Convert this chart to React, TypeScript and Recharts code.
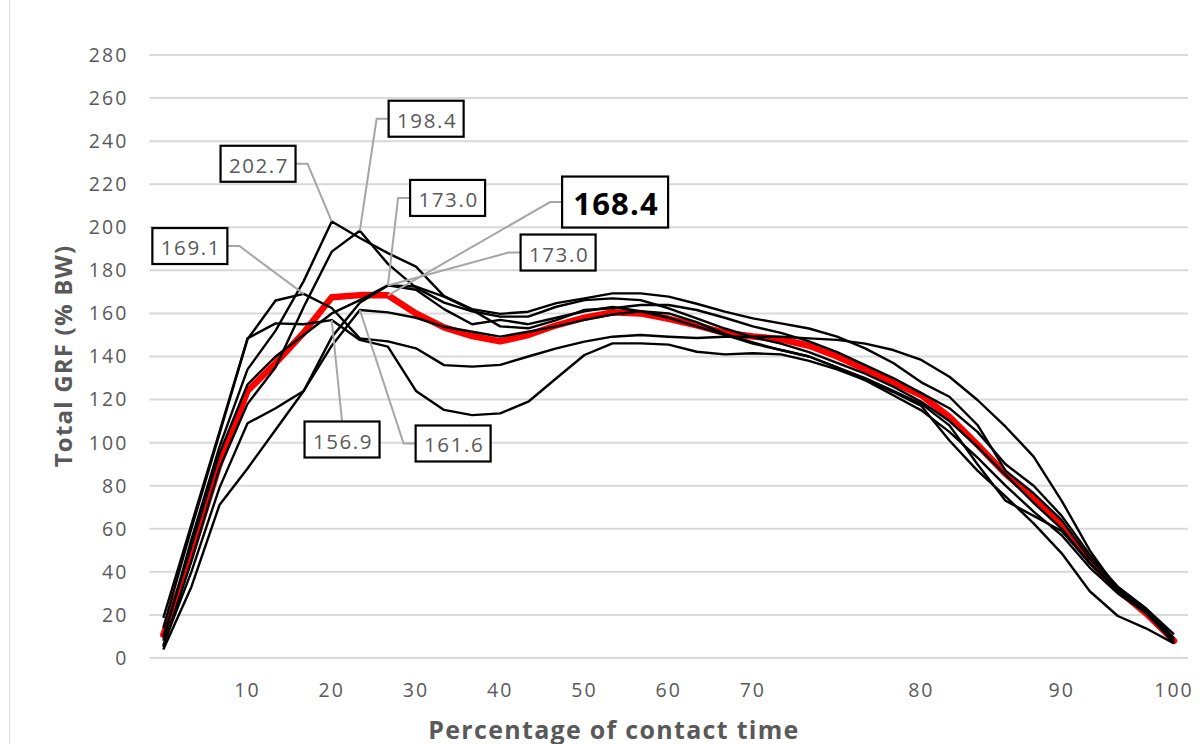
import React from 'react';
import { LineChart, Line, XAxis, YAxis, CartesianGrid } from 'recharts';

// sample index along contact time (37 samples)
const categories = [
  0, 1, 2, 3, 4, 5, 6, 7, 8, 9, 10, 11, 12, 13, 14, 15, 16, 17, 18,
  19, 20, 21, 22, 23, 24, 25, 26, 27, 28, 29, 30, 31, 32, 33, 34, 35, 36,
];

const xTickLabels = [
  '', '', '', '10', '', '', '20', '', '', '30', '', '', '40', '', '', '50', '', '', '60',
  '', '', '70', '', '', '', '', '', '80', '', '', '', '', '90', '', '', '', '100',
];

const yTicks = [0, 20, 40, 60, 80, 100, 120, 140, 160, 180, 200, 220, 240, 260, 280];

const meanGRF = [
  10.7, 48, 90, 124, 137, 151, 167.5, 168.5, 168.4, 160, 153.5, 149.5, 147, 150, 154.5, 158, 160.5, 160, 157.5,
  154.5, 151, 149.3, 148, 145, 140, 134, 128, 122, 112, 99, 85.5, 74.5, 62, 45.5, 31.6, 20.8, 8,
];
const trial1 = [
  8, 55, 98, 134, 152, 175, 202.7, 195, 188, 181.7, 168, 162, 159.8, 160.8, 164.8, 167, 169.3, 169.3, 167.8,
  164.5, 160.8, 157.7, 155.4, 153, 149.2, 143.8, 137, 128, 121.3, 108.2, 87, 76.5, 64, 46, 33, 23, 9,
];
const trial2 = [
  5, 45, 88, 118, 135, 163, 188.7, 198.4, 183, 172, 165, 161, 158.5, 158.5, 163.1, 166.2, 167, 166.2, 162.4,
  157.7, 153, 149, 146, 142, 137, 132, 126, 119, 110, 98, 85, 72, 60, 44, 32, 21, 8,
];
const trial3 = [
  6, 40, 79, 109, 116, 124, 149, 165, 173.0, 172.5, 167.8, 161.6, 154, 153.1, 156.9, 161.6, 162.4, 163.9, 163.9,
  161.6, 158, 154, 151, 147, 142, 136, 130, 123, 116, 105, 90, 80, 66, 48, 33, 23, 11,
];
const trial4 = [
  10, 52, 95, 127, 140, 150, 160, 166.2, 173.0, 171, 162, 155, 157, 155, 158, 161, 163, 161, 158,
  154, 150, 146, 143, 140, 135, 130, 124, 118, 108, 90, 73, 66, 59, 44, 31, 21, 7,
];
const trial5 = [
  14, 60, 104, 148, 166, 169.1, 162.5, 148.4, 147, 143.8, 136, 135.3, 136.1, 140, 143.8, 146.9, 149.2, 150, 149.2,
  148.6, 149.2, 149.2, 149.2, 148.4, 147.7, 146, 143, 138.4, 130.6, 119.8, 107.4, 93.5, 73, 50, 31.6, 22, 7.6,
];
const trial6 = [
  4, 33, 71, 88, 106, 124, 145, 161.6, 160.5, 158, 153.8, 151.5, 149.2, 151.5, 154, 157, 159.5, 161, 160,
  156, 150.5, 146.5, 143, 140, 135, 129, 122, 115, 105, 93, 80, 68, 57, 42, 30, 21, 9,
];
const trial7 = [
  18.6, 62, 105, 148.4, 155.4, 155, 156.9, 147.7, 144.6, 124, 115.2, 112.8, 113.6, 119, 129.9, 140.7, 146.1, 146.1, 145.5,
  142.2, 141, 141.5, 141, 138, 134, 129, 123.5, 117, 101, 87, 75, 62.5, 48.6, 31, 19.5, 13.8, 6.8,
];

const blackSeries = ['trial1', 'trial2', 'trial3', 'trial4', 'trial5', 'trial6', 'trial7'];

const data = categories.map((c, i) => ({
  sample: c,
  meanGRF: meanGRF[i],
  trial1: trial1[i],
  trial2: trial2[i],
  trial3: trial3[i],
  trial4: trial4[i],
  trial5: trial5[i],
  trial6: trial6[i],
  trial7: trial7[i],
}));

type Callout = {
  series: string;
  index: number;
  text: string;
  dx: number;
  dy: number;
  side: 'left' | 'right' | 'top';
  strong?: boolean;
};

const callouts: Callout[] = [
  { series: 'trial1', index: 6, text: '202.7', dx: -73.7, dy: -57.7, side: 'right' },
  { series: 'trial2', index: 7, text: '198.4', dx: 66.3, dy: -112, side: 'left' },
  { series: 'trial3', index: 8, text: '173.0', dx: 59.7, dy: -87.5, side: 'left' },
  { series: 'trial4', index: 8, text: '173.0', dx: 170.2, dy: -32.9, side: 'left' },
  { series: 'trial5', index: 5, text: '169.1', dx: -113.8, dy: -47.8, side: 'right' },
  { series: 'trial6', index: 7, text: '161.6', dx: 93.3, dy: 133.5, side: 'left' },
  { series: 'trial7', index: 6, text: '156.9', dx: 10.3, dy: 119.4, side: 'top' },
  { series: 'meanGRF', index: 8, text: '168.4', dx: 227.2, dy: -93.3, side: 'left', strong: true },
];

const FONT = '"Open Sans", "Noto Sans", sans-serif';

function makeCallout(seriesKey: string) {
  return (props: any) => {
    const { x, y, index } = props;
    const c = callouts.find((k) => k.series === seriesKey && k.index === index);
    if (!c || x == null || y == null) return null;
    const w = c.strong ? 106 : 75;
    const h = c.strong ? 51 : 36;
    const bx = x + c.dx;
    const by = y + c.dy;
    let pts: string;
    if (c.side === 'left') {
      const ex = bx - w / 2;
      pts = `${x},${y} ${ex - 12},${by} ${ex},${by}`;
    } else if (c.side === 'right') {
      const ex = bx + w / 2;
      pts = `${x},${y} ${ex + 12},${by} ${ex},${by}`;
    } else {
      pts = `${x},${y} ${bx},${by - h / 2}`;
    }
    return (
      <g key={`co-${seriesKey}-${index}`}>
        <polyline points={pts} fill="none" stroke="#a6a6a6" strokeWidth={2} />
        <rect x={bx - w / 2} y={by - h / 2} width={w} height={h} fill="#ffffff" stroke="#000000" strokeWidth={2.2} />
        <text
          x={bx + 1}
          y={by + 1}
          textAnchor="middle"
          dominantBaseline="central"
          fontFamily={FONT}
          fontSize={c.strong ? 31 : 20.5}
          fontWeight={c.strong ? 700 : 400}
          letterSpacing={c.strong ? 1.2 : 1.6}
          fill={c.strong ? '#000000' : '#595959'}
        >
          {c.text}
        </text>
      </g>
    );
  };
}

export default function App() {
  return (
    <div style={{ position: 'absolute', left: 0, top: 0, width: 1203, height: 744, background: '#ffffff' }}>
      <div
        style={{
          position: 'absolute',
          left: 9,
          top: -2,
          width: 1200,
          height: 760,
          border: '1.5px solid #d9d9d9',
          boxSizing: 'border-box',
        }}
      />
      <LineChart
        width={1203}
        height={744}
        data={data}
        margin={{ top: 55, right: 15, bottom: 56, left: 89.3 }}
      >
        <CartesianGrid vertical={false} stroke="#d9d9d9" strokeWidth={2} />
        <XAxis
          dataKey="sample"
          type="category"
          interval={0}
          height={30}
          padding={{ left: 14, right: 14 }}
          axisLine={false}
          tickLine={false}
          tickMargin={19}
          tickFormatter={(_v: any, i: number) => xTickLabels[i]}
          tick={{ fill: '#595959', fontSize: 19.5, fontFamily: FONT, letterSpacing: 2 }}
        />
        <YAxis
          domain={[0, 280]}
          ticks={yTicks}
          width={60}
          axisLine={false}
          tickLine={false}
          tickMargin={15}
          interval={0}
          tick={{ fill: '#595959', fontSize: 19.5, fontFamily: FONT, letterSpacing: 2 }}
        />
        <Line
          dataKey="meanGRF"
          stroke="#ff0000"
          strokeWidth={6.5}
          strokeLinejoin="round"
          strokeLinecap="round"
          dot={false}
          isAnimationActive={false}
          label={makeCallout('meanGRF')}
        />
        {blackSeries.map((k) => (
          <Line
            key={k}
            dataKey={k}
            stroke="#000000"
            strokeWidth={2.4}
            strokeLinejoin="round"
            dot={false}
            isAnimationActive={false}
            label={makeCallout(k)}
          />
        ))}
      </LineChart>
      <svg
        width={1203}
        height={744}
        style={{ position: 'absolute', left: 0, top: 0, pointerEvents: 'none' }}
      >
        <text
          x={62}
          y={356}
          transform="rotate(-90 62 356)"
          textAnchor="middle"
          dominantBaseline="central"
          fontFamily={FONT}
          fontWeight={700}
          fontSize={24}
          letterSpacing={1.2}
          fill="#595959"
        >
          Total GRF (% BW)
        </text>
        <text
          x={614}
          y={729}
          textAnchor="middle"
          dominantBaseline="central"
          fontFamily={FONT}
          fontWeight={700}
          fontSize={25}
          letterSpacing={1.3}
          fill="#595959"
        >
          Percentage of contact time
        </text>
      </svg>
    </div>
  );
}
